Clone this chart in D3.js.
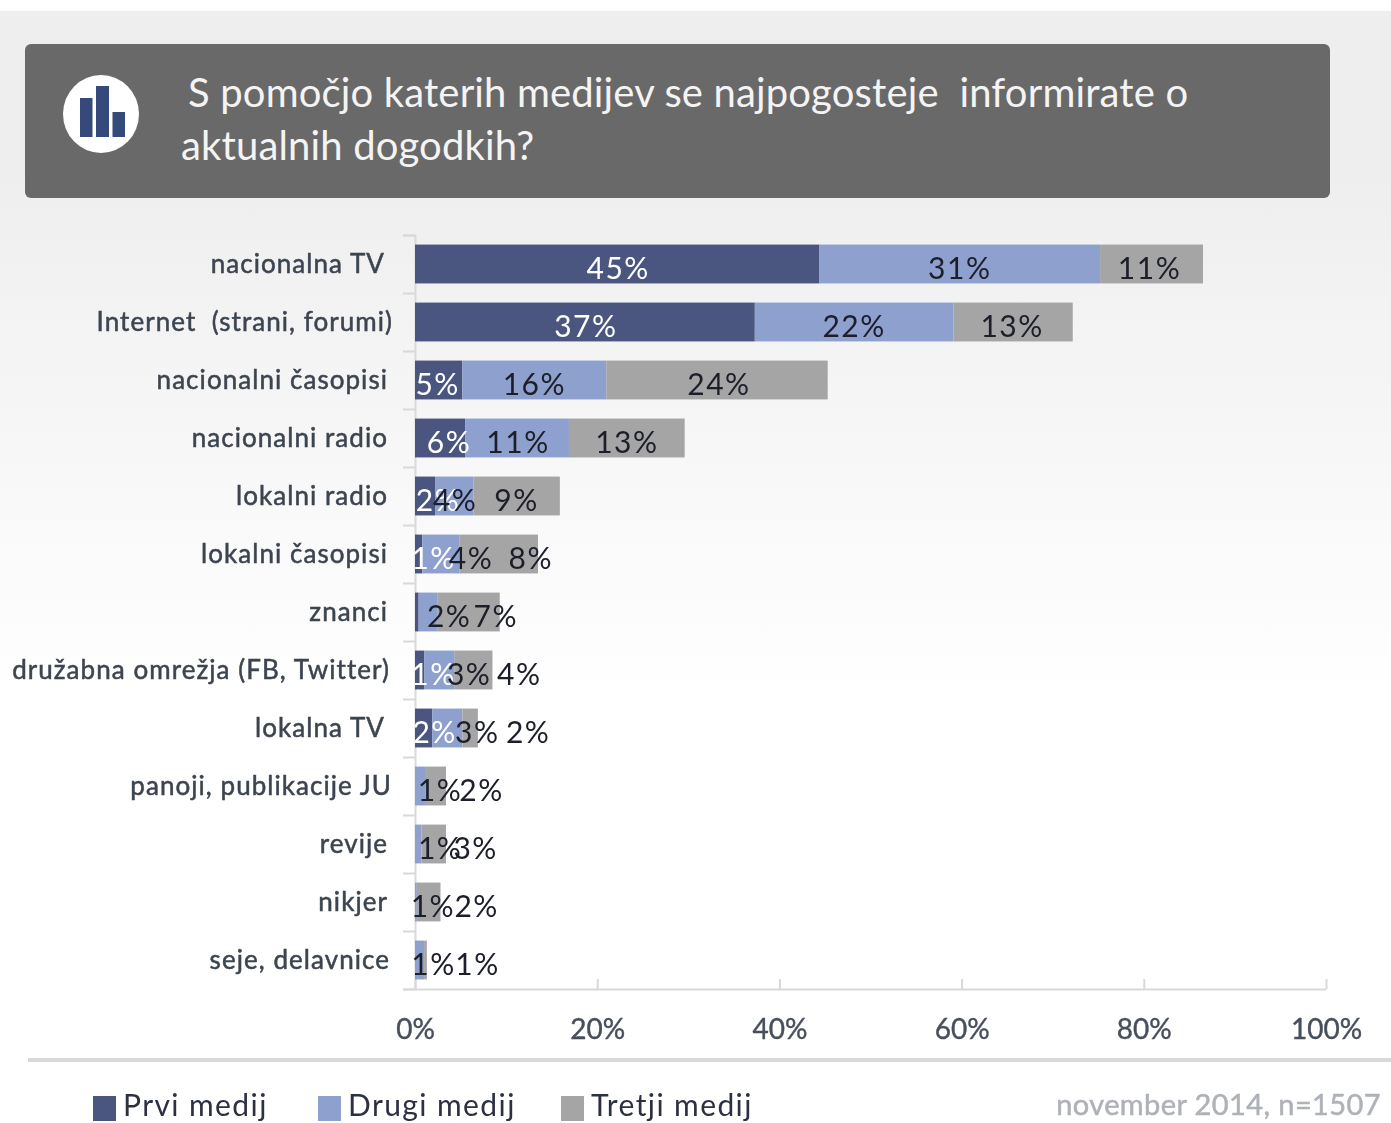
<!DOCTYPE html>
<html>
<head>
<meta charset="utf-8">
<script src="https://cdn.jsdelivr.net/npm/d3@7"></script>
<style>
  html, body { margin: 0; padding: 0; background: #fff; }
  svg { display: block; filter: blur(0.7px); }
  text { font-family: Lato, "Open Sans", sans-serif; }
</style>
</head>
<body>
<script>
// values
var categories = ["nacionalna TV", "Internet  (strani, forumi)", "nacionalni časopisi", "nacionalni radio",
  "lokalni radio", "lokalni časopisi", "znanci", "družabna omrežja (FB, Twitter)", "lokalna TV",
  "panoji, publikacije JU", "revije", "nikjer", "seje, delavnice"];
var prvi =   [44.4, 37.3, 5.2, 5.5, 2.2, 0.8, 0.4, 1.0, 1.9, 0, 0, 0, 0];
var drugi =  [30.8, 21.8, 15.8, 11.4, 4.2, 4.1, 2.1, 3.3, 3.3, 1.1, 0.7, 0.2, 1.0];
var tretji = [11.3, 13.1, 24.3, 12.7, 9.5, 8.6, 6.8, 4.2, 1.7, 2.3, 2.7, 2.6, 0.3];

var prviLabels =   ["45%", "37%", "5%", "6%", "2%", "1%", "", "1%", "2%", "", "", "", ""];
var drugiLabels =  ["31%", "22%", "16%", "11%", "4%", "4%", "2%", "3%", "3%", "1%", "1%", "1%", "1%"];
var tretjiLabels = ["11%", "13%", "24%", "13%", "9%", "8%", "7%", "4%", "2%", "2%", "3%", "2%", "1%"];

var seriesNames = ["Prvi medij", "Drugi medij", "Tretji medij"];
var xTicks = [0, 20, 40, 60, 80, 100];

// the labels were dragged by hand in the original, px away from the bar centre
var prviNudge =   [1, 1, -1, 9, 13, 15, 0, 14, 11, 0, 0, 0, 0];
var drugiNudge =  [0, 0, 0, 1, 1, 30, 21, 30, 30, 20, 22, 17, 14];
var tretjiNudge = [-2, -1, 2, 0, 0, 32, 27, 46, 58, 46, 42, 48, 52];
var categoryRight = [385, 393, 388, 388, 388, 388, 388, 390, 385, 392, 388, 388, 390];

var colors = ["#4b5680", "#8ea0cd", "#a5a5a5"];
var width = 1391, height = 1123;

var svg = d3.select("body").append("svg")
    .attr("width", width)
    .attr("height", height);

var defs = svg.append("defs");
var grad = defs.append("linearGradient")
    .attr("id", "bg")
    .attr("x1", 0).attr("y1", 0).attr("x2", 0).attr("y2", 1);
grad.append("stop").attr("offset", "0%").attr("stop-color", "#eeeeee");
grad.append("stop").attr("offset", "22%").attr("stop-color", "#eeeeee");
grad.append("stop").attr("offset", "100%").attr("stop-color", "#ffffff");

svg.append("rect")
    .attr("x", 0).attr("y", 11)
    .attr("width", width).attr("height", 690)
    .attr("fill", "url(#bg)");

// header
svg.append("rect")
    .attr("x", 25).attr("y", 44)
    .attr("width", 1305).attr("height", 154)
    .attr("rx", 6)
    .attr("fill", "#696969");

svg.append("ellipse")
    .attr("cx", 101).attr("cy", 114)
    .attr("rx", 38).attr("ry", 39)
    .attr("fill", "#fff");

var icon = svg.append("g").attr("fill", "#35497a");
icon.append("rect").attr("x", 80).attr("y", 98).attr("width", 12.5).attr("height", 39);
icon.append("rect").attr("x", 96).attr("y", 86).attr("width", 13).attr("height", 51);
icon.append("rect").attr("x", 112.5).attr("y", 112).attr("width", 12.5).attr("height", 25);

svg.append("text")
    .attr("x", 188).attr("y", 107)
    .attr("font-size", 40)
    .attr("letter-spacing", 0.15)
    .attr("fill", "#f4f4f4")
    .style("white-space", "pre")
    .text("S pomočjo katerih medijev se najpogosteje  informirate o");
svg.append("text")
    .attr("x", 181).attr("y", 160)
    .attr("font-size", 40)
    .attr("letter-spacing", 0.15)
    .attr("fill", "#f4f4f4")
    .text("aktualnih dogodkih?");

// scales
var x = d3.scaleLinear().domain([0, 100]).range([415, 1326]);
var y = d3.scaleBand().domain(categories).range([235, 989]).paddingInner(0.33).paddingOuter(0.165);
var yEdges = d3.scaleLinear().domain([0, categories.length]).range([235, 989]);

var rows = categories.map(function(c, i) {
  return { category: c, "Prvi medij": prvi[i], "Drugi medij": drugi[i], "Tretji medij": tretji[i] };
});
var stacked = d3.stack().keys(seriesNames)(rows);

// axes
var xAxis = svg.append("g")
    .attr("class", "axisx")
    .attr("transform", "translate(0,989)")
    .call(d3.axisBottom(x).tickValues(xTicks).tickSizeInner(-10).tickSizeOuter(0).tickPadding(30)
      .tickFormat(function(d) { return d + "%"; }));
xAxis.select(".domain").attr("stroke", "#d9d9d9").attr("stroke-width", 2);
xAxis.selectAll("line").attr("stroke", "#d9d9d9").attr("stroke-width", 2);
xAxis.selectAll("text")
    .attr("font-size", 28)
    .attr("fill", "#484f5c")
    .attr("stroke", "#484f5c")
    .attr("stroke-width", 0.4)
    .style("font-family", "Lato");

var yAxis = svg.append("g")
    .attr("class", "axisy")
    .attr("transform", "translate(415,0)")
    .call(d3.axisLeft(yEdges).tickValues(d3.range(0, categories.length + 1)).tickSize(12).tickFormat(""));
yAxis.select(".domain").attr("stroke", "#d9d9d9").attr("stroke-width", 2);
yAxis.selectAll("line").attr("stroke", "#d9d9d9").attr("stroke-width", 2);

// bars
svg.selectAll(".series")
    .data(stacked)
    .enter().append("g")
    .attr("class", "series")
    .attr("fill", function(d, i) { return colors[i]; })
    .selectAll("rect")
    .data(function(d) { return d; })
    .enter().append("rect")
    .attr("x", function(d) { return x(d[0]); })
    .attr("y", function(d) { return y(d.data.category); })
    .attr("width", function(d) { return x(d[1]) - x(d[0]); })
    .attr("height", y.bandwidth());

// value labels
var labelSets = [prviLabels, drugiLabels, tretjiLabels];
var nudges = [prviNudge, drugiNudge, tretjiNudge];
stacked.forEach(function(s, k) {
  svg.append("g").selectAll("text")
      .data(s)
      .enter().append("text")
      .attr("x", function(d, i) { return x((d[0] + d[1]) / 2) + nudges[k][i]; })
      .attr("y", function(d) { return y(d.data.category) + y.bandwidth() / 2 + 15; })
      .attr("text-anchor", "middle")
      .attr("font-size", 30)
      .attr("letter-spacing", 1.5)
      .attr("fill", k == 0 ? "#ffffff" : "#1c1e2a")
      .text(function(d, i) { return labelSets[k][i]; });
});

// category labels
svg.append("g").selectAll("text")
    .data(categories)
    .enter().append("text")
    .attr("x", function(d, i) { return categoryRight[i]; })
    .attr("y", function(d) { return y(d) + y.bandwidth() / 2 + 9; })
    .attr("text-anchor", "end")
    .attr("font-size", 26)
    .attr("letter-spacing", 1.05)
    .attr("fill", "#3c4450")
    .attr("stroke", "#3c4450")
    .attr("stroke-width", 0.5)
    .style("white-space", "pre")
    .text(function(d) { return d; });

// divider + legend
svg.append("rect")
    .attr("x", 28).attr("y", 1058)
    .attr("width", width - 28).attr("height", 4)
    .attr("fill", "#d9d9d9");

var legendX = d3.scaleOrdinal().domain(seriesNames).range([93, 318, 561]);
var legend = svg.append("g").selectAll("g")
    .data(seriesNames)
    .enter().append("g")
    .attr("transform", function(d) { return "translate(" + legendX(d) + ",1096)"; });
legend.append("rect")
    .attr("width", 23).attr("height", 25)
    .attr("fill", function(d, i) { return colors[i]; });
legend.append("text")
    .attr("x", 30).attr("y", 20)
    .attr("font-size", 30)
    .attr("letter-spacing", 1.4)
    .attr("fill", "#2c3040")
    .text(function(d) { return d; });

svg.append("text")
    .attr("x", 1381).attr("y", 1115)
    .attr("text-anchor", "end")
    .attr("font-size", 29)
    .attr("letter-spacing", 0.4)
    .attr("fill", "#aeb2b8")
    .attr("stroke", "#aeb2b8")
    .attr("stroke-width", 0.5)
    .text("november 2014, n=1507");
</script>
</body>
</html>
